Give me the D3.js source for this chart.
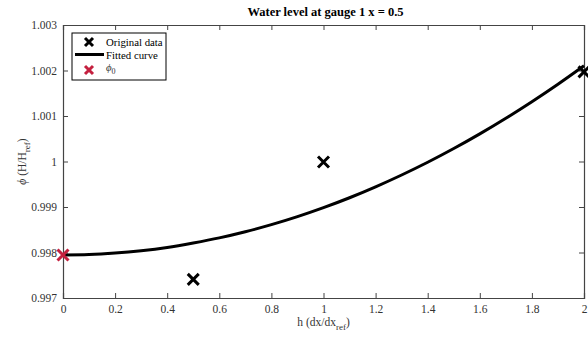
<!DOCTYPE html>
<html>
<head>
<meta charset="utf-8">
<script src="https://cdn.jsdelivr.net/npm/d3@7"></script>
<style>
  body { margin: 0; background: #fff; }
  text { font-family: "Liberation Serif", "Times New Roman", serif; }
</style>
</head>
<body>
<svg id="chart" width="588" height="339"></svg>
<script>
// original data points
let origH = [0.5, 1, 2];
let origPhi = [0.99741, 0.99999, 1.00197];
// extrapolated value phi_0
let phi0H = [0];
let phi0Val = [0.997945];
// fitted curve
let fitH = [0, 0.1, 0.2, 0.3, 0.4, 0.5, 0.6, 0.7, 0.8, 0.9, 1.0, 1.1, 1.2, 1.3, 1.4, 1.5, 1.6, 1.7, 1.8, 1.9, 2.0];
let fitPhi = [0.997945, 0.997955, 0.997988, 0.998040, 0.998112, 0.998210, 0.998322, 0.998457, 0.998612, 0.998788, 0.998985,
  0.999203, 0.999443, 0.999703, 0.999983, 1.000285, 1.000607, 1.000951, 1.001315, 1.001699, 1.002105];
let xTicks = [0, 0.2, 0.4, 0.6, 0.8, 1, 1.2, 1.4, 1.6, 1.8, 2];
let yTicks = [0.997, 0.998, 0.999, 1, 1.001, 1.002, 1.003];

let svg = d3.select('#chart');
let mLeft = 63, mRight = 584, mTop = 25, mBottom = 298;
let axisColor = '#444';
let red = '#c4203f';

let xScale = d3.scaleLinear().domain([0, 2]).range([mLeft, mRight]);
let yScale = d3.scaleLinear().domain([0.997, 1.003]).range([mBottom, mTop]);

let fmt = d => String(+d.toFixed(3));

// axes with inward ticks
let gX = svg.append('g').attr('transform', `translate(0, ${mBottom})`)
  .call(d3.axisBottom(xScale).tickValues(xTicks).tickSize(-5).tickPadding(7).tickFormat(fmt));
let gXt = svg.append('g').attr('transform', `translate(0, ${mTop})`)
  .call(d3.axisTop(xScale).tickValues(xTicks).tickSize(-5).tickFormat(''));
let gY = svg.append('g').attr('transform', `translate(${mLeft}, 0)`)
  .call(d3.axisLeft(yScale).tickValues(yTicks).tickSize(-5).tickPadding(6).tickFormat(fmt));
let gYr = svg.append('g').attr('transform', `translate(${mRight}, 0)`)
  .call(d3.axisRight(yScale).tickValues(yTicks).tickSize(-5).tickFormat(''));

[gX, gXt, gY, gYr].forEach(g => {
  g.select('.domain').attr('stroke', axisColor).attr('stroke-width', 1.2);
  g.selectAll('.tick line').attr('stroke', axisColor);
  g.selectAll('text').attr('fill', '#333').style('font-size', '11.5px')
    .style('font-family', '"Liberation Serif", serif');
});

let plot = svg.append('g');

// fitted curve
let line = d3.line()
  .x((d, i) => xScale(fitH[i]))
  .y(d => yScale(d))
  .curve(d3.curveMonotoneX);
plot.append('path')
  .datum(fitPhi)
  .attr('d', line)
  .attr('fill', 'none')
  .attr('stroke', '#000')
  .attr('stroke-width', 3);

function cross(g, x, y, color, s) {
  g.append('path')
    .attr('d', `M${x - s},${y - s}L${x + s},${y + s}M${x - s},${y + s}L${x + s},${y - s}`)
    .attr('stroke', color)
    .attr('stroke-width', 3)
    .attr('fill', 'none');
}

origH.forEach((h, i) => cross(plot, xScale(h), yScale(origPhi[i]), '#000', 5.5));
phi0H.forEach((h, i) => cross(plot, xScale(h), yScale(phi0Val[i]), red, 5.5));

// title
svg.append('text')
  .attr('x', (mLeft + mRight) / 2 + 2)
  .attr('y', 16)
  .attr('text-anchor', 'middle')
  .style('font-weight', 'bold')
  .style('font-size', '12.5px')
  .text('Water level at gauge 1 x = 0.5');

// x label
let xl = svg.append('text')
  .attr('x', (mLeft + mRight) / 2)
  .attr('y', 326)
  .attr('text-anchor', 'middle')
  .attr('fill', '#333')
  .style('font-size', '11.5px');
xl.append('tspan').text('h (dx/dx');
xl.append('tspan').attr('dy', 4).style('font-size', '9px').text('ref');
xl.append('tspan').attr('dy', -4).text(')');

// y label
let yl = svg.append('text')
  .attr('transform', `translate(26, ${(mTop + mBottom) / 2}) rotate(-90)`)
  .attr('text-anchor', 'middle')
  .attr('fill', '#333')
  .style('font-size', '11.5px');
yl.append('tspan').style('font-style', 'italic').text('\u03d5');
yl.append('tspan').text(' (H/H');
yl.append('tspan').attr('dy', 4).style('font-size', '9px').text('ref');
yl.append('tspan').attr('dy', -4).text(')');

// legend
let lg = svg.append('g');
lg.append('rect')
  .attr('x', 72).attr('y', 33).attr('width', 94).attr('height', 47)
  .attr('fill', '#fff').attr('stroke', '#000').attr('stroke-width', 1);
cross(lg, 89, 42, '#000', 4);
lg.append('line').attr('x1', 75).attr('x2', 104).attr('y1', 54.5).attr('y2', 54.5)
  .attr('stroke', '#000').attr('stroke-width', 3);
cross(lg, 89, 70, red, 4);
let legendText = ['Original data', 'Fitted curve'];
legendText.forEach((t, i) => {
  lg.append('text').attr('x', 106).attr('y', 45.5 + i * 13)
    .style('font-size', '10.8px').text(t);
});
let pt = lg.append('text').attr('x', 106).attr('y', 71).style('font-size', '10.8px').attr('fill', '#333');
pt.append('tspan').style('font-style', 'italic').text('\u03d5');
pt.append('tspan').attr('dy', 3).style('font-size', '8px').text('0');
</script>
</body>
</html>
